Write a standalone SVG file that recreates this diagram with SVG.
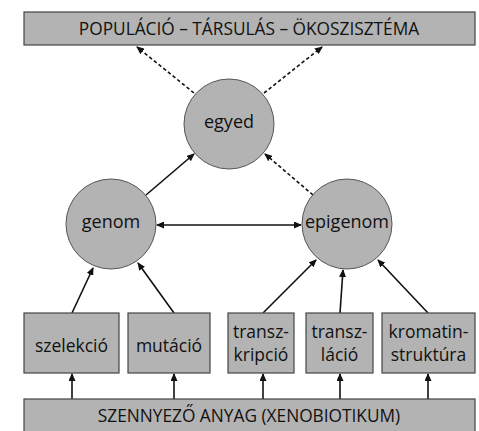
<svg xmlns="http://www.w3.org/2000/svg" width="479" height="431" viewBox="0 0 479 431">
<style>
.box{fill:#b3b3b3;stroke:#444;stroke-width:1.2}
.circ{fill:#b3b3b3;stroke:#555;stroke-width:1}
.t{font-family:"Open Sans","DejaVu Sans",sans-serif;font-size:17.5px;fill:#111;text-anchor:middle}
.c{font-size:18px}
.big{font-size:17.3px}
.ln{stroke:#111;stroke-width:1.6;fill:none}
.dash{stroke-dasharray:3.5 2.5}
</style>
<defs>
<marker id="ah" markerWidth="8" markerHeight="7" refX="7" refY="3.5" orient="auto" markerUnits="userSpaceOnUse">
<path d="M0,0 L8,3.5 L0,7 Z" fill="#111"/>
</marker>
<marker id="ahs" markerWidth="8" markerHeight="7" refX="1" refY="3.5" orient="auto" markerUnits="userSpaceOnUse">
<path d="M8,0 L0,3.5 L8,7 Z" fill="#111"/>
</marker>
</defs>
<g id="connectors">
<line class="ln dash" x1="194" y1="93" x2="137" y2="47" marker-end="url(#ah)"/>
<line class="ln dash" x1="264" y1="93" x2="322" y2="47" marker-end="url(#ah)"/>
<line class="ln" x1="146" y1="195" x2="194" y2="154" marker-end="url(#ah)"/>
<line class="ln dash" x1="313" y1="195" x2="265" y2="154" marker-end="url(#ah)"/>
<line class="ln" x1="157" y1="225" x2="301" y2="225" marker-start="url(#ahs)" marker-end="url(#ah)"/>
<line class="ln" x1="72" y1="313" x2="93" y2="268" marker-end="url(#ah)"/>
<line class="ln" x1="174" y1="313" x2="138" y2="263" marker-end="url(#ah)"/>
<line class="ln" x1="263" y1="313" x2="316" y2="260" marker-end="url(#ah)"/>
<line class="ln" x1="340" y1="313" x2="343" y2="270" marker-end="url(#ah)"/>
<line class="ln" x1="428" y1="313" x2="378" y2="260" marker-end="url(#ah)"/>
<line class="ln" x1="72" y1="399" x2="72" y2="374" marker-end="url(#ah)"/>
<line class="ln" x1="174" y1="399" x2="174" y2="374" marker-end="url(#ah)"/>
<line class="ln" x1="263" y1="399" x2="263" y2="374" marker-end="url(#ah)"/>
<line class="ln" x1="340" y1="399" x2="340" y2="374" marker-end="url(#ah)"/>
<line class="ln" x1="428" y1="399" x2="428" y2="374" marker-end="url(#ah)"/>
</g>
<g id="top">
<rect class="box" x="24" y="12" width="451" height="33"/>
<text class="t big" x="249" y="35">POPULÁCIÓ – TÁRSULÁS – ÖKOSZISZTÉMA</text>
</g>
<g id="egyed">
<circle class="circ" cx="229" cy="124" r="45"/>
<text class="t c" x="229" y="128">egyed</text>
</g>
<g id="genom">
<circle class="circ" cx="111" cy="224" r="45"/>
<text class="t c" x="111" y="228">genom</text>
</g>
<g id="epigenom">
<circle class="circ" cx="347" cy="224" r="45"/>
<text class="t c" x="347" y="228">epigenom</text>
</g>
<g id="szelekcio">
<rect class="box" x="24" y="313" width="95" height="60"/>
<text class="t" x="71.5" y="352">szelekció</text>
</g>
<g id="mutacio">
<rect class="box" x="128" y="313" width="82" height="60"/>
<text class="t" x="169" y="352">mutáció</text>
</g>
<g id="transzkripcio">
<rect class="box" x="228" y="313" width="66" height="60"/>
<text class="t" x="261" y="338">transz-</text>
<text class="t" x="261" y="361">kripció</text>
</g>
<g id="transzlacio">
<rect class="box" x="306" y="313" width="67" height="60"/>
<text class="t" x="339.5" y="338">transz-</text>
<text class="t" x="339.5" y="361">láció</text>
</g>
<g id="kromatin">
<rect class="box" x="382" y="313" width="93" height="60"/>
<text class="t" x="428.5" y="338">kromatin-</text>
<text class="t" x="428.5" y="361">struktúra</text>
</g>
<g id="szennyezo">
<rect class="box" x="24" y="399" width="451" height="40"/>
<text class="t big" x="249" y="422">SZENNYEZŐ ANYAG (XENOBIOTIKUM)</text>
</g>
</svg>
